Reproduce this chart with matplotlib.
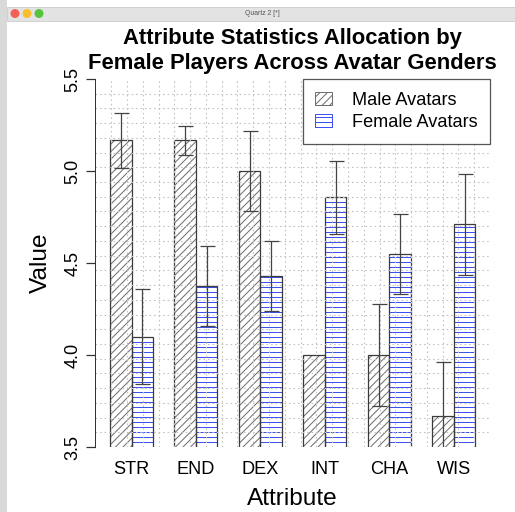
import matplotlib
matplotlib.use('Agg')
from matplotlib import pyplot as plt
from matplotlib.patches import Patch, Rectangle, Circle
import numpy as np

attributes = ['STR', 'END', 'DEX', 'INT', 'CHA', 'WIS']
male_mean = [5.167, 5.167, 5.0, 4.0, 4.0, 3.667]
male_err = [0.148, 0.08, 0.215, 0.0, 0.277, 0.296]
female_mean = [4.1, 4.375, 4.43, 4.857, 4.55, 4.71]
female_err = [0.26, 0.22, 0.19, 0.197, 0.217, 0.275]
yticks = [3.5, 4.0, 4.5, 5.0, 5.5]

W, H, DPI = 515, 512, 90
plt.rcParams['font.family'] = ['Liberation Sans', 'DejaVu Sans']
plt.rcParams['hatch.linewidth'] = 0.8

fig = plt.figure(figsize=(W / DPI, H / DPI), dpi=DPI)

def px(x, y):
    return x / W, 1 - y / H

# window chrome
fig.patches.append(Rectangle((0, 0), 7 / W, 1, transform=fig.transFigure,
                             facecolor='#d9d9d9', edgecolor='none'))
fig.patches.append(Rectangle(px(7, 21), 1, 14 / H, transform=fig.transFigure,
                             facecolor='#e3e3e3', edgecolor='#c8c8c8', lw=0.6))
for cx, col in zip([15, 27, 39], ['#f25f58', '#fbbe2e', '#58c33f']):
    fig.patches.append(Circle(px(cx, 13.5), 4.5 / W, transform=fig.transFigure,
                              facecolor=col, edgecolor='none'))
fig.text(*px(262, 13.5), 'Quartz 2 [*]', fontsize=5.5, color='#555555',
         ha='center', va='center')

left, right, top, bottom = 95.4, 490, 79, 447
ax = fig.add_axes([left / W, 1 - bottom / H, (right - left) / W, (bottom - top) / H])

n = len(attributes)
x_male = 1.5 + 3 * np.arange(n)
x_female = 2.5 + 3 * np.arange(n)
x_group = 2 + 3 * np.arange(n)

ax.set_xlim(0.32, 18.68)
ax.set_ylim(3.5, 5.5)

# hatched bars, then borders
ax.bar(x_male, male_mean, width=1, facecolor='white', edgecolor='#6e6e6e',
       hatch='////', lw=0, zorder=2)
ax.bar(x_female, female_mean, width=1, facecolor='white', edgecolor='#3d50f0',
       hatch='---', lw=0, zorder=2)
ax.bar(x_male, male_mean, width=1, fill=False, edgecolor='#3a3a3a', lw=1, zorder=2.2)
ax.bar(x_female, female_mean, width=1, fill=False, edgecolor='#3a3a3a', lw=1, zorder=2.2)

# dotted grid over the bars
for gx in np.linspace(0.32, 18.68, 26)[1:-1]:
    ax.axvline(gx, color='#c4c4c4', ls=(0, (1.5, 2.5)), lw=0.9, zorder=2.5)
for gy in np.linspace(3.5, 5.5, 26)[1:-1]:
    ax.axhline(gy, color='#c4c4c4', ls=(0, (1.5, 2.5)), lw=0.9, zorder=2.5)

# error bars
for xs, m, e in [(x_male, male_mean, male_err), (x_female, female_mean, female_err)]:
    for xi, mi, ei in zip(xs, m, e):
        if ei > 0:
            ax.errorbar(xi, mi, yerr=ei, fmt='none', ecolor='#444444', elinewidth=1,
                        capsize=6, capthick=1, zorder=3)

for s in ['top', 'right', 'bottom']:
    ax.spines[s].set_visible(False)
ax.spines['left'].set_color('#333333')
ax.set_yticks(yticks)
ax.set_yticklabels([f'{v:.1f}' for v in yticks], rotation=90, va='center', fontsize=14.5)
ax.tick_params(axis='y', length=7, width=1, color='#333333', pad=4)
ax.set_xticks(x_group)
ax.set_xticklabels(attributes, fontsize=14.5)
ax.tick_params(axis='x', length=0, pad=11.5)

ax.set_xlabel('Attribute', fontsize=19.5, labelpad=8)
ax.set_ylabel('Value', fontsize=19.5, labelpad=10)

handles = [Patch(facecolor='white', edgecolor='#6e6e6e', hatch='////', lw=0.8, label='Male Avatars'),
           Patch(facecolor='white', edgecolor='#3d50f0', hatch='---', lw=0.8, label='Female Avatars')]
leg = ax.legend(handles=handles, loc='upper right', borderaxespad=0, fontsize=14.5,
                fancybox=False, framealpha=1, edgecolor='#555555',
                handlelength=0.9, handleheight=0.7, handletextpad=1.1,
                borderpad=0.7, labelspacing=0.3)
leg.get_frame().set_linewidth(1)
leg.set_zorder(5)

fig.text(292.7 / W, 1 - 51 / H, 'Attribute Statistics Allocation by\nFemale Players Across Avatar Genders',
         ha='center', va='center', fontsize=17.6, fontweight='bold', linespacing=1.2)

plt.savefig('out.png', dpi=DPI)
